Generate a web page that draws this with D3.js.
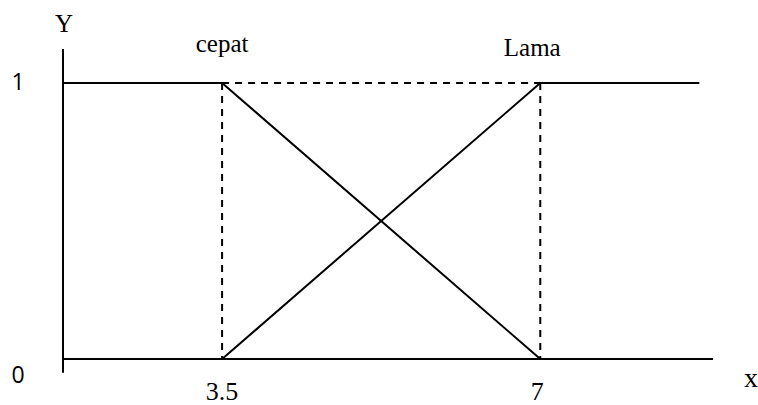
<!DOCTYPE html>
<html>
<head>
<meta charset="utf-8">
<script src="https://cdn.jsdelivr.net/npm/d3@7"></script>
<style>
  body { margin: 0; background: #fff; }
  svg { display: block; }
  .serif { font-family: "Liberation Serif", "Times New Roman", serif; }
  .sans { font-family: "Open Sans", "Liberation Sans", Arial, sans-serif; }
</style>
</head>
<body>
<div id="chart"></div>
<script>
// fuzzy sets
const setNames = ["cepat", "Lama"];
const cepatPts = [[1.75, 1], [3.5, 1], [7, 0]];
const lamaPts = [[3.5, 0], [7, 1], [8.75, 1]];
const xTicks = [3.5, 7];
const xTickLabels = ["3.5", "7"];
const yTicks = [0, 1];
const yTickLabels = ["0", "1"];
const xRange = [1.75, 8.9];

const W = 758, H = 405;
const svg = d3.select("#chart").append("svg")
  .attr("width", W).attr("height", H);

const x = d3.scaleLinear().domain(xRange).range([63, 713]);
const y = d3.scaleLinear().domain([0, 1]).range([359, 83]);

const line = d3.line().x(d => x(d[0])).y(d => y(d[1]));

// y axis
svg.append("line")
  .attr("x1", x(xRange[0])).attr("x2", x(xRange[0]))
  .attr("y1", y(1.123)).attr("y2", y(-0.05))
  .attr("stroke", "#000").attr("stroke-width", 2);

// x axis (baseline)
svg.append("line")
  .attr("x1", x(xRange[0])).attr("x2", x(xRange[1]))
  .attr("y1", y(0)).attr("y2", y(0))
  .attr("stroke", "#000").attr("stroke-width", 2);

// dashed guides
const g = svg.append("g")
  .attr("stroke", "#000").attr("stroke-width", 2)
  .attr("stroke-dasharray", "7,6").attr("fill", "none");
xTicks.forEach(t => {
  g.append("line")
    .attr("x1", x(t)).attr("x2", x(t))
    .attr("y1", y(1)).attr("y2", y(0));
});
g.append("line")
  .attr("x1", x(xTicks[0])).attr("x2", x(xTicks[1]))
  .attr("y1", y(1)).attr("y2", y(1));

// membership functions
[cepatPts, lamaPts].forEach(pts => {
  svg.append("path")
    .attr("d", line(pts))
    .attr("fill", "none")
    .attr("stroke", "#000")
    .attr("stroke-width", 2);
});

// set names
const nameDx = [0, -8];
const nameX = [3.5, 7];
setNames.forEach((n, i) => {
  svg.append("text").attr("class", "serif")
    .attr("x", x(nameX[i]) + nameDx[i]).attr("y", i == 0 ? 52 : 56)
    .attr("text-anchor", "middle")
    .attr("font-size", 25)
    .text(n);
});

// x tick labels
xTicks.forEach((t, i) => {
  svg.append("text").attr("class", "serif")
    .attr("x", x(t) - (i == 1 ? 3 : 0)).attr("y", 400)
    .attr("text-anchor", "middle")
    .attr("font-size", 26)
    .text(xTickLabels[i]);
});

// y tick labels
yTicks.forEach((t, i) => {
  svg.append("text").attr("class", "sans")
    .attr("x", 18).attr("y", y(t) + (t == 0 ? 24 : 7))
    .attr("text-anchor", "middle")
    .attr("font-size", 23)
    .text(yTickLabels[i]);
});

// axis names
svg.append("text").attr("class", "serif")
  .attr("x", 64).attr("y", 32)
  .attr("text-anchor", "middle").attr("font-size", 25)
  .text("Y");
svg.append("text").attr("class", "serif")
  .attr("x", 751).attr("y", 387)
  .attr("text-anchor", "middle").attr("font-size", 28)
  .text("x");
</script>
</body>
</html>
